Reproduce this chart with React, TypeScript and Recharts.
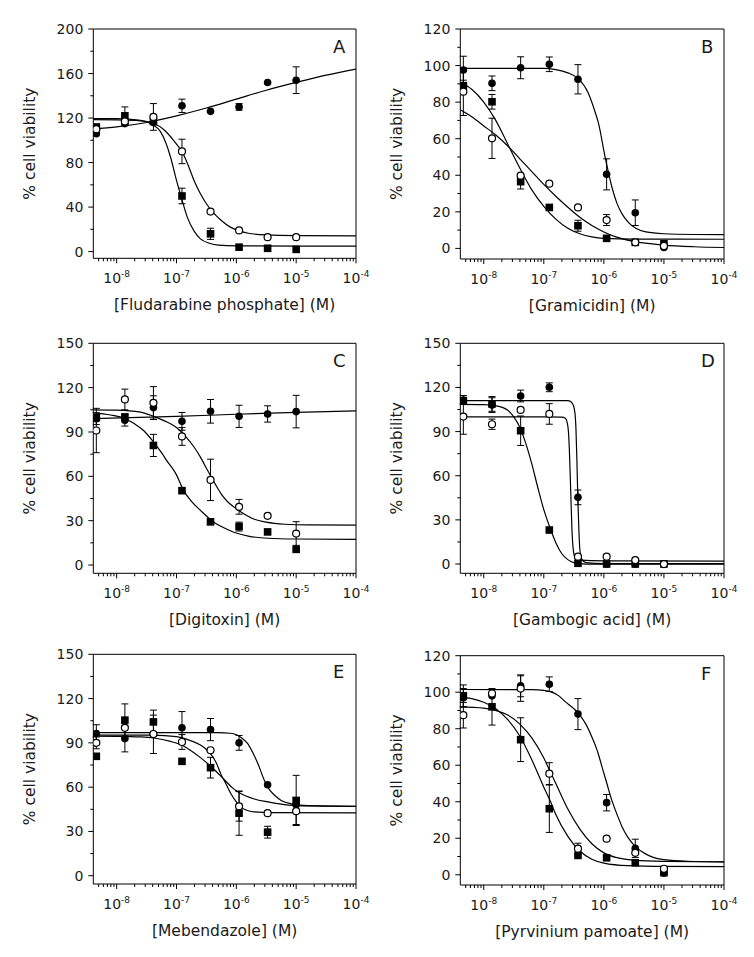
import React from "react";
import {
  ComposedChart,
  Line,
  Scatter,
  XAxis,
  YAxis,
  ErrorBar,
  ReferenceLine,
} from "recharts";

// concentrations (M), threefold dilutions
const conc = [4.572e-9, 1.372e-8, 4.115e-8, 1.235e-7, 3.704e-7, 1.111e-6, 3.333e-6, 1e-5];

// x axis ticks
const xMajor = [1e-8, 1e-7, 1e-6, 1e-5, 1e-4];
const xMajorExp = ["-8", "-7", "-6", "-5", "-4"];
const xDecades = [1e-9, 1e-8, 1e-7, 1e-6, 1e-5];
const xMinorMult = [2, 3, 4, 5, 6, 7, 8, 9];
const xMin = 4.07e-9;
const xMax = 1e-4;

// A - Fludarabine phosphate
const aFilled = [106, 115, 116, 131, 126, 130, 152, 154];
const aFilledErr = [0, 0, 0, 6, 0, 3, 0, 12];
const aOpen = [110, 117, 121, 90, 36, 19, 13, 13];
const aOpenErr = [0, 0, 12, 11, 0, 0, 0, 0];
const aSquare = [112, 122, 117, 50, 16, 4, 3, 2];
const aSquareErr = [0, 8, 0, 7, 5, 0, 0, 0];
const aFilledFit = [[-8.4, 110], [-8, 112], [-7.5, 116], [-7, 122], [-6.5, 129], [-6, 137], [-5.5, 145], [-5, 152], [-4.5, 158.5], [-4, 164]];
const aOpenFit = [[-8.4, 118.5], [-8, 118.3], [-7.6, 117.5], [-7.4, 115.5], [-7.2, 109], [-7.05, 100], [-6.9, 89], [-6.8, 77], [-6.7, 63], [-6.6, 52], [-6.5, 43], [-6.4, 36], [-6.25, 28], [-6.1, 22], [-6, 19.5], [-5.8, 16.5], [-5.5, 15], [-5, 14.4], [-4, 14.2]];
const aSquareFit = [[-8.4, 119.5], [-8, 119.5], [-7.6, 118], [-7.4, 114], [-7.27, 108], [-7.18, 98], [-7.1, 85], [-7, 64], [-6.91, 47], [-6.82, 31], [-6.7, 18], [-6.6, 11.5], [-6.45, 7.5], [-6.3, 5.8], [-6, 5.2], [-5, 5], [-4, 5]];

// B - Gramicidin
const bFilled = [97.6, 90.3, 98.8, 100.7, 92.5, 40.5, 19.5, 0.5];
const bFilledErr = [7.5, 4, 6, 4, 8, 8.5, 7, 0];
const bOpen = [85.7, 60.2, 39.8, 35.4, 22.4, 15.5, 3.3, 1.3];
const bOpenErr = [13, 11, 0, 0, 0, 3, 0, 0];
const bSquare = [89, 80.2, 36.5, 22.4, 12.4, 5.5, 3.3, 2.5];
const bSquareErr = [3, 4, 4, 0, 3, 0, 0, 0];
const bFilledFit = [[-8.4, 98.5], [-7, 98.5], [-6.8, 97.8], [-6.6, 96], [-6.43, 93], [-6.26, 85], [-6.15, 75], [-6.09, 68.5], [-5.98, 50], [-5.87, 34], [-5.78, 24.5], [-5.7, 19], [-5.6, 14.5], [-5.47, 11], [-5.3, 9], [-5, 8], [-4.5, 7.6], [-4, 7.5]];
const bOpenFit = [[-8.4, 76], [-8.2, 72], [-8, 67], [-7.8, 62], [-7.6, 56], [-7.4, 49], [-7.2, 42], [-7, 35], [-6.8, 28.5], [-6.6, 22.5], [-6.4, 17], [-6.2, 12.5], [-6, 9], [-5.8, 6.3], [-5.5, 3.8], [-5, 1.8], [-4.5, 0.9], [-4, 0.5]];
const bSquareFit = [[-8.4, 91], [-8.2, 87], [-8, 80], [-7.8, 70], [-7.6, 57], [-7.4, 44], [-7.2, 32], [-7, 23], [-6.8, 16], [-6.6, 11], [-6.4, 8], [-6.2, 6.3], [-6, 5.5], [-5.5, 5.1], [-4, 5]];

// C - Digitoxin
const cFilled = [99, 98, 106.5, 97.2, 104, 100.6, 102.2, 103.8];
const cFilledErr = [4, 4, 8, 6, 8, 7.5, 5.5, 11];
const cOpen = [91, 112, 109.7, 87, 57.6, 39.4, 33.3, 21.3];
const cOpenErr = [15, 7, 11, 6, 14, 5, 0, 8];
const cSquare = [99.7, 100.2, 80.9, 50.3, 29.2, 26, 22.4, 10.6];
const cSquareErr = [0, 0, 7.5, 0, 0, 3, 0, 0];
const cFilledFit = [[-8.4, 99], [-7, 100.5], [-6, 102], [-5, 103.3], [-4, 104.3]];
const cOpenFit = [[-8.4, 105], [-8, 104.8], [-7.6, 103.5], [-7.38, 100.6], [-7.2, 97.5], [-7, 93], [-6.85, 87], [-6.71, 80], [-6.6, 73], [-6.48, 64], [-6.37, 56], [-6.26, 48.5], [-6.15, 43], [-6.03, 39], [-5.85, 34], [-5.7, 31], [-5.5, 29], [-5.19, 27.6], [-4.8, 27.1], [-4, 27]];
const cSquareFit = [[-8.4, 103], [-8.1, 101.5], [-7.86, 99], [-7.7, 95.5], [-7.55, 91], [-7.38, 83], [-7.25, 76], [-7.16, 70.5], [-7, 61], [-6.89, 51], [-6.75, 43], [-6.6, 37], [-6.41, 30], [-6.2, 25], [-6.03, 22], [-5.8, 19.6], [-5.47, 18.1], [-5, 17.6], [-4, 17.4]];

// D - Gambogic acid
const dFilled = [111.5, 108, 114.2, 120.1, 45.3, 0, 0, 0];
const dFilledErr = [3, 5, 4, 3, 5, 0, 0, 0];
const dOpen = [100.2, 95, 104.7, 102, 5, 5, 2.7, 0];
const dOpenErr = [12, 3.5, 0, 7, 0, 0, 0, 0];
const dSquare = [111, 108.8, 90.6, 23.1, 0.5, 0, 0, 0];
const dSquareErr = [2, 5, 10, 0, 0, 0, 0, 0];
const dFilledFit = [[-8.4, 111], [-7, 111], [-6.6, 111], [-6.55, 110.3], [-6.51, 108], [-6.48, 102], [-6.465, 92], [-6.45, 72], [-6.44, 55], [-6.43, 40], [-6.415, 22], [-6.4, 10], [-6.37, 3.5], [-6.3, 1], [-6, 0.3], [-4, 0.3]];
const dOpenFit = [[-8.4, 100], [-7, 100], [-6.7, 99.8], [-6.64, 99], [-6.61, 96], [-6.59, 90], [-6.575, 78], [-6.56, 60], [-6.545, 40], [-6.53, 22], [-6.51, 10], [-6.48, 4.5], [-6.4, 2.6], [-6, 2.1], [-4, 2]];
const dSquareFit = [[-8.4, 108.5], [-8, 108.3], [-7.8, 107.5], [-7.6, 104.5], [-7.5, 100], [-7.4, 93], [-7.3, 82], [-7.2, 68], [-7.1, 52], [-7, 37], [-6.9, 25], [-6.8, 14.5], [-6.7, 7], [-6.6, 3], [-6.5, 1], [-6.3, 0], [-4, 0]];

// E - Mebendazole
const eFilled = [96.3, 92.9, 95.8, 100.2, 99, 90, 61.6, 48];
const eFilledErr = [6, 9, 13, 11, 7.5, 5, 0, 0];
const eOpen = [90, 100.2, 96, 90.6, 85, 47, 42.4, 43.7];
const eOpenErr = [4, 0, 0, 5, 0, 10, 0, 9];
const eSquare = [80.9, 105.4, 104.2, 77.5, 73.2, 42.4, 29.5, 51];
const eSquareErr = [0, 11, 8, 0, 7, 15, 4, 17];
const eFilledFit = [[-8.4, 97], [-6.3, 97], [-6.1, 96.5], [-6, 95.5], [-5.9, 93], [-5.81, 89.5], [-5.72, 83], [-5.64, 76], [-5.53, 64.5], [-5.45, 58.5], [-5.36, 54.5], [-5.25, 51], [-5.08, 48.7], [-4.8, 47.5], [-4, 47]];
const eOpenFit = [[-8.4, 95.3], [-7.4, 95.2], [-7, 94.2], [-6.8, 92], [-6.6, 88.5], [-6.5, 85.5], [-6.41, 81.5], [-6.33, 76], [-6.26, 69], [-6.17, 62], [-6.09, 55.5], [-6, 50], [-5.92, 46.5], [-5.8, 44], [-5.7, 43.2], [-5.4, 42.7], [-4, 42.6]];
const eSquareFit = [[-8.4, 94.5], [-8, 94.4], [-7.6, 94], [-7.38, 93.3], [-7.1, 91], [-6.89, 88], [-6.75, 84.5], [-6.6, 80], [-6.41, 73.5], [-6.2, 65], [-6.05, 59], [-5.92, 55.5], [-5.7, 52], [-5.47, 50], [-5.2, 48.2], [-4.8, 47.3], [-4, 47]];

// F - Pyrvinium pamoate
const fFilled = [97, 98, 103.5, 104.4, 88, 39.5, 14.5, 1];
const fFilledErr = [5, 0, 6, 4, 8.5, 4.5, 5, 0];
const fOpen = [87.4, 99.3, 102, 55.4, 14.3, 19.8, 12, 3.3];
const fOpenErr = [7, 0, 7, 6, 3, 0, 0, 0];
const fSquare = [98, 92, 74, 36.2, 10.6, 9.3, 6.6, 1.1];
const fSquareErr = [6, 10, 12, 13, 0, 0, 0, 0];
const fFilledFit = [[-8.4, 101.5], [-7.2, 101.4], [-7, 101], [-6.88, 100.2], [-6.75, 98], [-6.65, 95], [-6.5, 91], [-6.4, 87.5], [-6.3, 82.5], [-6.2, 75.5], [-6.1, 67], [-6.03, 59], [-5.95, 50], [-5.87, 41], [-5.78, 33], [-5.7, 26.5], [-5.6, 20.5], [-5.46, 15], [-5.3, 11.3], [-5.19, 9.7], [-5, 8.3], [-4.6, 7.4], [-4, 7.1]];
const fOpenFit = [[-8.4, 92], [-8, 91.3], [-7.8, 90], [-7.6, 87.5], [-7.4, 82.5], [-7.2, 75], [-7, 64], [-6.9, 57], [-6.8, 50], [-6.6, 36], [-6.4, 25], [-6.2, 17], [-6, 12], [-5.8, 9.5], [-5.5, 8], [-5, 7.3], [-4, 7]];
const fSquareFit = [[-8.4, 97.5], [-8.2, 96.5], [-8, 94.5], [-7.8, 91], [-7.6, 85], [-7.4, 76], [-7.2, 63], [-7, 48], [-6.9, 41], [-6.8, 33], [-6.6, 21], [-6.4, 13], [-6.2, 8.5], [-6, 6.4], [-5.6, 5], [-5, 4.6], [-4, 4.5]];

const FONT = '"DejaVu Sans", Verdana, sans-serif';
const TXT = "#1a1a1a";
const Y_W = 70;
const X_H = 50;

const xMinor = xDecades
  .flatMap((d) => xMinorMult.map((m) => m * d))
  .filter((v) => v >= xMin && v <= xMax);
const xTicks = [...xMajor, ...xMinor].sort((a, b) => a - b);

const pts = (v: number[], e: number[]) =>
  conc.map((x, i) => ({ x, y: v[i], e: e[i] }));
const fit = (c: number[][]) => c.map(([l, y]) => ({ x: Math.pow(10, l), y }));

const majorIndex = (v: number) =>
  xMajor.findIndex((m) => Math.abs(v / m - 1) < 1e-6);

// the last major x tick also draws the right edge of the frame
const makeXTick = (plotH: number) => (props: any) => {
  const { x, y, payload } = props;
  const i = majorIndex(payload.value);
  return (
    <g>
      <line x1={x} x2={x} y1={y} y2={y + (i >= 0 ? 5 : 3)} stroke="#000" />
      {i === xMajor.length - 1 && (
        <line x1={x} x2={x} y1={y} y2={y - plotH} stroke="#000" />
      )}
      {i >= 0 && (
        <text x={x} y={y + 25} textAnchor="middle" fontSize={14} fill={TXT}>
          10
          <tspan dy={-6} fontSize={9}>
            {xMajorExp[i]}
          </tspan>
        </text>
      )}
    </g>
  );
};

// the top y tick also draws the top edge of the frame
const makeYTick = (major: number[], top: number, plotW: number) => (props: any) => {
  const { x, y, payload } = props;
  const isMajor = major.includes(payload.value);
  return (
    <g>
      <line x1={x - (isMajor ? 5 : 3)} x2={x} y1={y} y2={y} stroke="#000" />
      {payload.value === top && (
        <line x1={x} x2={x + plotW} y1={y} y2={y} stroke="#000" />
      )}
      {isMajor && (
        <text x={x - 10} y={y + 5} textAnchor="end" fontSize={14} fill={TXT}>
          {payload.value}
        </text>
      )}
    </g>
  );
};

const FilledDot = (p: any) => <circle cx={p.cx} cy={p.cy} r={3.8} fill="#000" />;
const OpenDot = (p: any) => (
  <circle cx={p.cx} cy={p.cy} r={3.5} fill="#fff" stroke="#000" strokeWidth={1.2} />
);
const SquareDot = (p: any) => (
  <rect x={p.cx - 3.8} y={p.cy - 3.8} width={7.6} height={7.6} fill="#000" />
);

type Series = { vals: number[]; errs: number[]; curve: number[][]; shape: any };

type PanelProps = {
  bx: number; by: number; w: number; h: number;
  pl: number; pt: number; pr: number; pb: number;
  letter: string;
  xTitle: string;
  yMin: number; yMax: number;
  yMajor: number[]; yMinor: number[];
  series: Series[];
};

function Panel(p: PanelProps) {
  const pl = p.pl - p.bx;
  const pt = p.pt - p.by;
  const pr = p.pr - p.bx;
  const pb = p.pb - p.by;
  const margin = { top: pt, right: p.w - pr, left: pl - Y_W, bottom: p.h - pb - X_H };
  const yTicks = [...p.yMajor, ...p.yMinor].sort((a, b) => a - b);

  return (
    <div style={{ position: "absolute", left: p.bx, top: p.by }}>
      <ComposedChart width={p.w} height={p.h} margin={margin}>
        <XAxis
          dataKey="x"
          type="number"
          scale="log"
          domain={[xMin, xMax]}
          allowDataOverflow
          ticks={xTicks}
          interval={0}
          tick={makeXTick(pb - pt)}
          tickLine={false}
          tickSize={0}
          tickMargin={0}
          axisLine={{ stroke: "#000" }}
          height={X_H}
          label={() => (
            <text x={(pl + pr) / 2} y={pb + 52} textAnchor="middle" fontSize={15.5} fill={TXT}>
              {p.xTitle}
            </text>
          )}
        />
        <YAxis
          type="number"
          domain={[p.yMin, p.yMax]}
          allowDataOverflow
          ticks={yTicks}
          interval={0}
          tick={makeYTick(p.yMajor, p.yMax, pr - pl)}
          tickLine={false}
          tickSize={0}
          tickMargin={0}
          axisLine={{ stroke: "#000" }}
          width={Y_W}
          label={() => (
            <text
              x={pl - 58}
              y={(pt + pb) / 2}
              transform={`rotate(-90 ${pl - 58} ${(pt + pb) / 2})`}
              textAnchor="middle"
              fontSize={15.5}
              fill={TXT}
            >
              % cell viability
            </text>
          )}
        />
        {/* carries the panel letter */}
        <ReferenceLine
          y={p.yMax}
          stroke="none"
          ifOverflow="visible"
          label={() => (
            <text x={pr - 23} y={pt + 24} fontSize={18} fill={TXT}>
              {p.letter}
            </text>
          )}
        />
        {p.series.map((s, i) => (
          <Line
            key={`l${i}`}
            data={fit(s.curve)}
            dataKey="y"
            type="monotone"
            dot={false}
            activeDot={false}
            stroke="#000"
            strokeWidth={1.2}
            isAnimationActive={false}
          />
        ))}
        {p.series.map((s, i) => (
          <Scatter
            key={`s${i}`}
            data={pts(s.vals, s.errs)}
            dataKey="y"
            shape={s.shape}
            isAnimationActive={false}
          >
            <ErrorBar dataKey="e" direction="y" width={3.5} stroke="#000" strokeWidth={1} />
          </Scatter>
        ))}
      </ComposedChart>
    </div>
  );
}

const series = (
  f: number[], fe: number[], fc: number[][],
  s: number[], se: number[], sc: number[][],
  o: number[], oe: number[], oc: number[][]
): Series[] => [
  { vals: f, errs: fe, curve: fc, shape: FilledDot },
  { vals: s, errs: se, curve: sc, shape: SquareDot },
  { vals: o, errs: oe, curve: oc, shape: OpenDot },
];

export default function App() {
  return (
    <div
      style={{
        position: "absolute",
        left: 0,
        top: 0,
        width: 754,
        height: 957,
        background: "#fff",
        fontFamily: FONT,
      }}
    >
      <Panel
        bx={0} by={0} w={377} h={314}
        pl={93.3} pt={29} pr={356} pb={258.3}
        letter="A" xTitle="[Fludarabine phosphate] (M)"
        yMin={-6} yMax={200}
        yMajor={[0, 40, 80, 120, 160, 200]} yMinor={[20, 60, 100, 140, 180]}
        series={series(aFilled, aFilledErr, aFilledFit, aSquare, aSquareErr, aSquareFit, aOpen, aOpenErr, aOpenFit)}
      />
      <Panel
        bx={377} by={0} w={377} h={314}
        pl={460.3} pt={29} pr={724} pb={259}
        letter="B" xTitle="[Gramicidin] (M)"
        yMin={-5.8} yMax={120}
        yMajor={[0, 20, 40, 60, 80, 100, 120]} yMinor={[10, 30, 50, 70, 90, 110]}
        series={series(bFilled, bFilledErr, bFilledFit, bSquare, bSquareErr, bSquareFit, bOpen, bOpenErr, bOpenFit)}
      />
      <Panel
        bx={0} by={314} w={377} h={314}
        pl={93.3} pt={343.3} pr={356} pb={573.3}
        letter="C" xTitle="[Digitoxin] (M)"
        yMin={-5.6} yMax={150}
        yMajor={[0, 30, 60, 90, 120, 150]} yMinor={[15, 45, 75, 105, 135]}
        series={series(cFilled, cFilledErr, cFilledFit, cSquare, cSquareErr, cSquareFit, cOpen, cOpenErr, cOpenFit)}
      />
      <Panel
        bx={377} by={314} w={377} h={314}
        pl={460.3} pt={343.3} pr={724} pb={573.3}
        letter="D" xTitle="[Gambogic acid] (M)"
        yMin={-6.3} yMax={150}
        yMajor={[0, 30, 60, 90, 120, 150]} yMinor={[15, 45, 75, 105, 135]}
        series={series(dFilled, dFilledErr, dFilledFit, dSquare, dSquareErr, dSquareFit, dOpen, dOpenErr, dOpenFit)}
      />
      <Panel
        bx={0} by={628} w={377} h={329}
        pl={93.3} pt={654.3} pr={356} pb={884}
        letter="E" xTitle="[Mebendazole] (M)"
        yMin={-5.6} yMax={150}
        yMajor={[0, 30, 60, 90, 120, 150]} yMinor={[15, 45, 75, 105, 135]}
        series={series(eFilled, eFilledErr, eFilledFit, eSquare, eSquareErr, eSquareFit, eOpen, eOpenErr, eOpenFit)}
      />
      <Panel
        bx={377} by={628} w={377} h={329}
        pl={460.3} pt={655.7} pr={724} pb={885}
        letter="F" xTitle="[Pyrvinium pamoate] (M)"
        yMin={-5.6} yMax={120}
        yMajor={[0, 20, 40, 60, 80, 100, 120]} yMinor={[10, 30, 50, 70, 90, 110]}
        series={series(fFilled, fFilledErr, fFilledFit, fSquare, fSquareErr, fSquareFit, fOpen, fOpenErr, fOpenFit)}
      />
    </div>
  );
}
